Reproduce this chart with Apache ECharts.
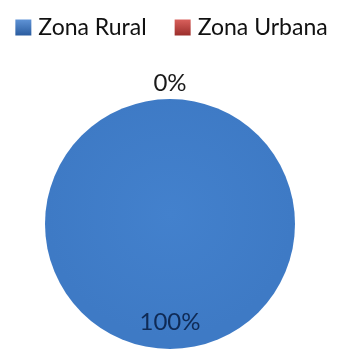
<!DOCTYPE html>
<html>
<head>
<meta charset="utf-8">
<style>
  html, body { margin: 0; padding: 0; background: #ffffff; }
  #chart { width: 343px; height: 351px; }
</style>
<script src="https://cdn.jsdelivr.net/npm/echarts@6/dist/echarts.min.js"></script>
</head>
<body>
<div id="chart"></div>
<script>
// Population share by zone
const categories = ['Zona Rural', 'Zona Urbana'];
const values = [100, 0];
const colors = ['#3f7bc6', '#c0504d'];

const chart = echarts.init(document.getElementById('chart'), null, { renderer: 'canvas' });

// Bevel-like fill for each slice: slightly brighter middle, darker rim
function sliceFill(base, light, dark) {
  return new echarts.graphic.RadialGradient(0.5, 0.46, 0.56, [
    { offset: 0, color: light },
    { offset: 0.88, color: base },
    { offset: 0.96, color: base },
    { offset: 1, color: dark }
  ]);
}

const fills = [
  sliceFill('#3e7ac5', '#4381cd', '#2e5f9f'),
  sliceFill('#c0504d', '#cc5e5a', '#9a3532')
];

const legendIcons = [
  new echarts.graphic.LinearGradient(0, 0, 0, 1, [
    { offset: 0, color: '#5f93d6' },
    { offset: 1, color: '#2a5c9f' }
  ]),
  new echarts.graphic.LinearGradient(0, 0, 0, 1, [
    { offset: 0, color: '#d9605c' },
    { offset: 1, color: '#9b2e2b' }
  ])
];

// Large slice gets its label inside, the empty slice outside on top
const labelStyles = [
  { show: true, position: 'inside', color: '#0f2a55' },
  { show: true, position: 'outside', color: '#1a1a1a' }
];

const data = categories.map((name, i) => ({
  name: name,
  value: values[i],
  itemStyle: { color: fills[i] },
  label: labelStyles[i]
}));

chart.setOption({
  animation: false,
  color: colors,
  legend: {
    top: 11,
    left: 'center',
    icon: 'rect',
    itemWidth: 16,
    itemHeight: 16,
    itemGap: 28,
    textStyle: { fontFamily: 'Lato', fontSize: 23, color: '#111111', padding: [0, 0, 0, 2] },
    data: categories.map((name, i) => ({ name: name, itemStyle: { color: legendIcons[i] } }))
  },
  series: [{
    type: 'pie',
    center: [170, 224],
    radius: 125,
    startAngle: 90,
    clockwise: true,
    avoidLabelOverlap: false,
    minShowLabelAngle: 0,
    data: data,
    itemStyle: { borderWidth: 0 },
    label: {
      fontFamily: 'Lato',
      fontSize: 24,
      formatter: p => Math.round(p.percent) + '%'
    },
    labelLine: { show: false, length: 6, length2: 0 },
    labelLayout: function (params) {
      if (params.dataIndex === 0) {
        return { dy: 33 };
      }
      return { dx: -params.labelRect.width / 2 - 5, dy: -10 };
    }
  }]
});
</script>
</body>
</html>
